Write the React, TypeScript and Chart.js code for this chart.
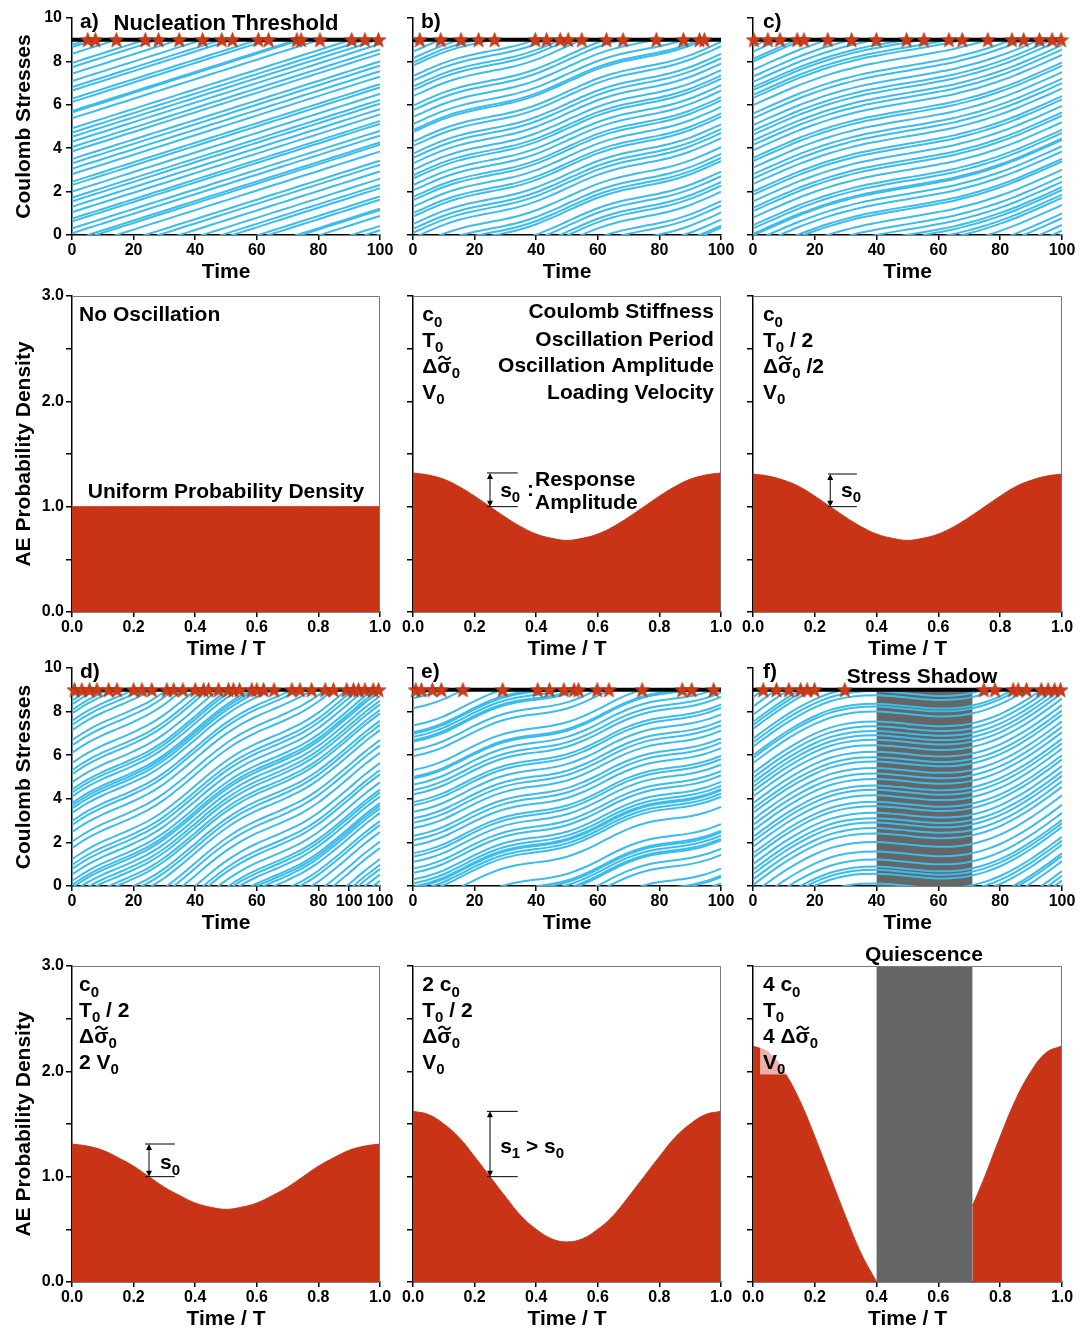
import { useEffect, useRef } from "react"
import { Chart, registerables } from "chart.js"

Chart.register(...registerables)

const FONT = '"Liberation Sans", Arial, Helvetica, sans-serif'
const CYAN = "#3bbcec"
const RED = "#c93417"
const STAR = "#d03b17"
const SHADE = "#666666"
const THRESHOLD = 9

// sample times of the loading curves
const BASE_T = [0, 5, 10, 15, 20, 25, 30, 35, 40, 45, 50, 55, 60, 65, 70, 75, 80, 85, 90, 95, 100]

// loading curve of each stress panel (stress added since t = 0)
const BASE_A = [0, 0.23, 0.45, 0.68, 0.9, 1.13, 1.35, 1.58, 1.8, 2.03, 2.25, 2.48, 2.7, 2.93, 3.15, 3.38, 3.6, 3.83, 4.05, 4.28, 4.5]
const BASE_B = [0, 0.32, 0.61, 0.84, 1.01, 1.15, 1.29, 1.46, 1.69, 1.98, 2.3, 2.62, 2.91, 3.14, 3.31, 3.45, 3.59, 3.76, 3.99, 4.28, 4.6]
const BASE_C = [0, 0.32, 0.63, 0.93, 1.19, 1.43, 1.63, 1.81, 1.95, 2.08, 2.2, 2.32, 2.45, 2.59, 2.77, 2.97, 3.21, 3.47, 3.77, 4.08, 4.4]
const BASE_D = [0, 0.45, 0.81, 1.11, 1.42, 1.77, 2.22, 2.77, 3.36, 3.96, 4.5, 4.95, 5.31, 5.61, 5.92, 6.27, 6.72, 7.27, 7.86, 8.46, 9.0]
const BASE_E = [0, 0.17, 0.42, 0.76, 1.12, 1.44, 1.68, 1.83, 1.93, 2.03, 2.19, 2.45, 2.78, 3.15, 3.47, 3.71, 3.86, 3.95, 4.05, 4.22, 4.47]
const BASE_F = [0, 0.52, 1.01, 1.44, 1.8, 2.08, 2.25, 2.34, 2.36, 2.32, 2.25, 2.18, 2.14, 2.16, 2.25, 2.43, 2.7, 3.06, 3.49, 3.98, 4.5]

// event times (stars on the nucleation threshold)
const STARS_A = [5.1, 7.6, 14.4, 23.8, 28.1, 34.8, 42.4, 48.6, 52.1, 60.5, 63.8, 73.0, 74.4, 80.5, 90.8, 95.1, 99.5]
const STARS_B = [2.2, 9.0, 15.6, 21.3, 26.5, 39.7, 43.4, 47.8, 50.4, 54.8, 62.8, 68.2, 79.0, 87.8, 93.0, 94.6]
const STARS_C = [0.3, 4.8, 8.7, 14.3, 16.5, 24.2, 31.9, 39.9, 49.7, 55.3, 63.4, 67.7, 76.0, 83.8, 87.6, 92.7, 96.8, 99.7]
const STARS_D = [0.8, 3.2, 5.7, 8.1, 11.9, 14.6, 20.0, 22.7, 25.9, 30.8, 33.0, 36.0, 40.0, 42.7, 44.3, 47.6, 50.8, 52.4, 54.4, 58.4, 60.0, 62.2, 65.6, 71.4, 74.0, 77.8, 82.2, 84.9, 89.2, 91.4, 93.0, 95.1, 97.8, 99.5]
const STARS_E = [0.9, 2.7, 6.3, 9.2, 16.2, 29.1, 40.5, 44.3, 49.0, 52.3, 53.7, 59.8, 63.6, 74.4, 87.4, 90.5, 97.6]
const STARS_F = [3.3, 7.6, 11.6, 15.4, 17.5, 19.9, 29.7, 74.7, 78.3, 84.2, 85.8, 88.5, 93.3, 95.5, 97.6, 99.5]

// starting stress of the faults that do not fail inside the window
const QUIET_A = [0.08, 0.3, 0.62, 0.75, 1.05, 1.3, 1.55, 1.72, 2.0, 2.3, 2.45, 2.8, 3.05, 3.3, 3.5, 3.85, 4.05, 4.3]
const QUIET_B = [0.1, 0.28, 0.5, 0.85, 1.0, 1.3, 1.6, 1.75, 2.05, 2.3, 2.6, 2.75, 3.0, 3.3, 3.55, 3.75, 4.1, 4.3]
const QUIET_C = [0.05, 0.3, 0.45, 0.8, 1.1, 1.25, 1.55, 1.85, 2.0, 2.35, 2.6, 2.8, 3.1, 3.4, 3.55, 3.9, 4.15, 4.35]
const QUIET_D: number[] = []
const QUIET_E = [0.12, 0.3, 0.6, 0.8, 1.1, 1.35, 1.5, 1.85, 2.1, 2.3, 2.65, 2.9, 3.1, 3.4, 3.7, 3.85, 4.2, 4.4]
const QUIET_F = [0.05, 0.3, 0.55, 0.75, 1.0, 1.3, 1.5, 1.8, 2.05, 2.25, 2.55, 2.8, 3.05, 3.35, 3.55, 3.8, 4.1, 4.35]

// probability density over one period
const PHASE_X = [0, 0.05, 0.1, 0.15, 0.2, 0.25, 0.3, 0.35, 0.4, 0.45, 0.5, 0.55, 0.6, 0.65, 0.7, 0.75, 0.8, 0.85, 0.9, 0.95, 1]
const DENS_A = [1, 1, 1, 1, 1, 1, 1, 1, 1, 1, 1, 1, 1, 1, 1, 1, 1, 1, 1, 1, 1]
const DENS_B = [1.32, 1.3, 1.26, 1.19, 1.1, 1.0, 0.9, 0.81, 0.74, 0.7, 0.68, 0.7, 0.74, 0.81, 0.9, 1.0, 1.1, 1.19, 1.26, 1.3, 1.32]
const DENS_C = [1.31, 1.29, 1.25, 1.19, 1.1, 1.0, 0.9, 0.81, 0.74, 0.7, 0.68, 0.7, 0.74, 0.81, 0.9, 1.0, 1.1, 1.19, 1.25, 1.29, 1.31]
const DENS_D = [1.31, 1.29, 1.25, 1.18, 1.1, 1.0, 0.9, 0.82, 0.75, 0.71, 0.69, 0.71, 0.75, 0.82, 0.9, 1.0, 1.1, 1.18, 1.25, 1.29, 1.31]
const DENS_E = [1.62, 1.59, 1.5, 1.37, 1.19, 1.0, 0.81, 0.63, 0.5, 0.41, 0.38, 0.41, 0.5, 0.63, 0.81, 1.0, 1.19, 1.37, 1.5, 1.59, 1.62]
const DENS_F_X1 = [0, 0.05, 0.1, 0.15, 0.2, 0.25, 0.3, 0.35, 0.4]
const DENS_F_1 = [2.24, 2.18, 2.0, 1.73, 1.38, 1.0, 0.62, 0.27, 0.0]
const DENS_F_X2 = [0.71, 0.75, 0.8, 0.85, 0.9, 0.95, 1]
const DENS_F_2 = [0.72, 1.0, 1.38, 1.73, 2.0, 2.18, 2.24]

// axis ticks
const TIME_TICKS = [0, 20, 40, 60, 80, 100]
const TIME_LABELS = ["0", "20", "40", "60", "80", "100"]
const TIME_TICKS_D = [0, 20, 40, 60, 80, 90, 100]
const TIME_LABELS_D = ["0", "20", "40", "60", "80", "100", "100"]
const STRESS_TICKS = [0, 2, 4, 6, 8, 10]
const STRESS_LABELS = ["0", "2", "4", "6", "8", "10"]
const PHASE_TICKS = [0, 0.2, 0.4, 0.6, 0.8, 1]
const PHASE_LABELS = ["0.0", "0.2", "0.4", "0.6", "0.8", "1.0"]
const DENS_TICKS = [0, 0.5, 1, 1.5, 2, 2.5, 3]
const DENS_LABELS = ["0.0", "", "1.0", "", "2.0", "", "3.0"]

// page layout of the plot areas
const COL_LEFT = [72, 413, 753]
const COL_W = [308, 308, 309]
const ROW_TOP = [18, 296, 668, 966]
const ROW_H = [217, 316, 218, 316]
const ROW_PAD = [14, 14, 14, 30]

const PARAM_Y = [2.83, 2.59, 2.34, 2.09]

// "§" stands for sigma with a tilde, "_" makes the next character a subscript
const params = (x: number, labels: string[]) => labels.map((s, i) => ({ s, x, y: PARAM_Y[i] }))

const PANELS: any[] = [
  { row: 0, col: 0, kind: "stress", base: BASE_A, stars: STARS_A, quiet: QUIET_A,
    texts: [{ s: "a)", x: 2.6, y: 9.88 }, { s: "Nucleation Threshold", x: 50, y: 9.8, align: "center", size: 22 }] },
  { row: 0, col: 1, kind: "stress", base: BASE_B, stars: STARS_B, quiet: QUIET_B, texts: [{ s: "b)", x: 2.6, y: 9.88 }] },
  { row: 0, col: 2, kind: "stress", base: BASE_C, stars: STARS_C, quiet: QUIET_C, texts: [{ s: "c)", x: 3.2, y: 9.88 }] },
  { row: 1, col: 0, kind: "dens", series: [[PHASE_X, DENS_A]],
    texts: [{ s: "No Oscillation", x: 0.023, y: 2.83 }, { s: "Uniform Probability Density", x: 0.5, y: 1.15, align: "center" }] },
  { row: 1, col: 1, kind: "dens", series: [[PHASE_X, DENS_B]],
    texts: [
      ...params(0.03, ["c_0", "T_0", "\u0394§_0", "V_0"]),
      { s: "Coulomb Stiffness", x: 0.977, y: 2.86, align: "right" },
      { s: "Oscillation Period", x: 0.977, y: 2.6, align: "right" },
      { s: "Oscillation Amplitude", x: 0.977, y: 2.35, align: "right" },
      { s: "Loading Velocity", x: 0.977, y: 2.09, align: "right" },
      { s: "s_0", x: 0.283, y: 1.16 },
      { s: ":", x: 0.37, y: 1.17 },
      { s: "Response", x: 0.396, y: 1.27 },
      { s: "Amplitude", x: 0.396, y: 1.05 },
    ],
    arrows: [{ x: 0.25, y0: 1.0, y1: 1.32, x0: 0.24, x1: 0.34 }] },
  { row: 1, col: 2, kind: "dens", series: [[PHASE_X, DENS_C]],
    texts: [...params(0.032, ["c_0", "T_0 / 2", "\u0394§_0 /2", "V_0"]), { s: "s_0", x: 0.285, y: 1.16 }],
    arrows: [{ x: 0.25, y0: 1.0, y1: 1.31, x0: 0.243, x1: 0.336 }] },
  { row: 2, col: 0, kind: "stress", base: BASE_D, stars: STARS_D, quiet: QUIET_D, xticks: TIME_TICKS_D, xlabels: TIME_LABELS_D,
    texts: [{ s: "d)", x: 2.6, y: 9.88 }] },
  { row: 2, col: 1, kind: "stress", base: BASE_E, stars: STARS_E, quiet: QUIET_E, texts: [{ s: "e)", x: 2.6, y: 9.88 }] },
  { row: 2, col: 2, kind: "stress", base: BASE_F, stars: STARS_F, quiet: QUIET_F, shade: [40, 71, 9],
    texts: [{ s: "f)", x: 3.2, y: 9.88 }, { s: "Stress Shadow", x: 54.7, y: 9.66, align: "center" }] },
  { row: 3, col: 0, kind: "dens", series: [[PHASE_X, DENS_D]],
    texts: [...params(0.023, ["c_0", "T_0 / 2", "\u0394§_0", "2 V_0"]), { s: "s_0", x: 0.286, y: 1.14 }],
    arrows: [{ x: 0.25, y0: 1.0, y1: 1.31, x0: 0.237, x1: 0.334 }] },
  { row: 3, col: 1, kind: "dens", series: [[PHASE_X, DENS_E]],
    texts: [...params(0.03, ["2 c_0", "T_0 / 2", "\u0394§_0", "V_0"]), { s: "s_1 > s_0", x: 0.283, y: 1.3 }],
    arrows: [{ x: 0.25, y0: 1.0, y1: 1.62, x0: 0.24, x1: 0.34 }] },
  { row: 3, col: 2, kind: "dens", series: [[DENS_F_X1, DENS_F_1], [DENS_F_X2, DENS_F_2]], shade: [0.4, 0.71, 3],
    veil: [0.023, 0.11, 1.97, 2.23],
    texts: [...params(0.032, ["4 c_0", "T_0", "4 \u0394§_0", "V_0"]), { s: "Quiescence", x: 0.553, y: 3.12, align: "center" }] },
]

function valueAt(xs: number[], ys: number[], t: number) {
  for (let i = 1; i < xs.length; i++) {
    if (t <= xs[i]) {
      const f = (t - xs[i - 1]) / (xs[i] - xs[i - 1])
      return ys[i - 1] + f * (ys[i] - ys[i - 1])
    }
  }
  return ys[ys.length - 1]
}

// every fault follows the loading curve shifted by its own stress, and drops to zero when it fails
function loadingLines(base: number[], stars: number[], quiet: number[]) {
  const offsets = quiet.concat(stars.map((t) => THRESHOLD - valueAt(BASE_T, base, t)))
  const out: { x: number; y: number }[][] = []
  offsets.forEach((o) => {
    const ys = base.map((b) => b + o)
    const k = ys.findIndex((y) => y >= THRESHOLD)
    const upper = k < 0 ? ys : ys.slice(0, k + 1)
    out.push(upper.map((y, i) => ({ x: BASE_T[i], y })))
    if (k >= 0) {
      const start = Math.max(k - 1, 0)
      out.push(ys.slice(start).map((y, i) => ({ x: BASE_T[start + i], y: y - THRESHOLD })))
    }
  })
  return out
}

function starImage() {
  const c = document.createElement("canvas")
  c.width = 17
  c.height = 17
  const g = c.getContext("2d")!
  g.beginPath()
  for (let i = 0; i < 10; i++) {
    const a = -Math.PI / 2 + (i * Math.PI) / 5
    const r = i % 2 === 0 ? 8 : 3.4
    g.lineTo(8.5 + r * Math.cos(a), 9.2 + r * Math.sin(a))
  }
  g.closePath()
  g.fillStyle = STAR
  g.fill()
  g.strokeStyle = "#9c2a0f"
  g.lineWidth = 0.6
  g.stroke()
  return c
}

function drawRich(ctx: CanvasRenderingContext2D, str: string, x: number, y: number, align: string, size: number) {
  const parts: { t: string; sub: boolean; tilde: boolean }[] = []
  for (let i = 0; i < str.length; i++) {
    const ch = str[i]
    if (ch === "_") {
      parts.push({ t: str[i + 1], sub: true, tilde: false })
      i++
    } else if (ch === "§") {
      parts.push({ t: "\u03c3", sub: false, tilde: true })
    } else {
      const last = parts[parts.length - 1]
      if (last && !last.sub && !last.tilde) last.t += ch
      else parts.push({ t: ch, sub: false, tilde: false })
    }
  }
  const main = `bold ${size}px ${FONT}`
  const small = `bold ${Math.round(size * 0.72)}px ${FONT}`
  const widths = parts.map((p) => {
    ctx.font = p.sub ? small : main
    return ctx.measureText(p.t).width
  })
  const total = widths.reduce((a, b) => a + b, 0)
  let cx = align === "right" ? x - total : align === "center" ? x - total / 2 : x
  const baseY = y + size * 0.36
  ctx.fillStyle = "#000"
  ctx.textAlign = "left"
  ctx.textBaseline = "alphabetic"
  parts.forEach((p, i) => {
    ctx.font = p.sub ? small : main
    ctx.fillText(p.t, cx, p.sub ? baseY + size * 0.24 : baseY)
    if (p.tilde) {
      // small tilde over the sigma
      const mx = cx + widths[i] / 2
      const ty = baseY - size * 0.72
      const hw = widths[i] * 0.42
      ctx.save()
      ctx.strokeStyle = "#000"
      ctx.lineWidth = size * 0.09
      ctx.beginPath()
      ctx.moveTo(mx - hw, ty + 1)
      ctx.bezierCurveTo(mx - hw * 0.5, ty - 3, mx - hw * 0.1, ty - 1, mx, ty)
      ctx.bezierCurveTo(mx + hw * 0.1, ty + 1, mx + hw * 0.5, ty + 3, mx + hw, ty - 1)
      ctx.stroke()
      ctx.restore()
    }
    cx += widths[i]
  })
}

function decorPlugin(spec: any) {
  return {
    id: "decor",
    beforeDatasetsDraw(chart: any) {
      if (!spec.shade) return
      const { ctx, scales } = chart
      const [x0, x1, yTop] = spec.shade
      const l = scales.x.getPixelForValue(x0)
      const r = scales.x.getPixelForValue(x1)
      const t = scales.y.getPixelForValue(yTop)
      const b = scales.y.getPixelForValue(0)
      ctx.save()
      ctx.fillStyle = SHADE
      ctx.fillRect(l, t, r - l, b - t)
      ctx.restore()
    },
    beforeDatasetDraw(chart: any, args: any) {
      const ds = chart.data.datasets[args.index]
      if (ds.clipTop == null) return
      const { ctx, chartArea, scales } = chart
      const t = scales.y.getPixelForValue(ds.clipTop)
      ctx.save()
      ctx.beginPath()
      ctx.rect(chartArea.left, t, chartArea.right - chartArea.left, chartArea.bottom - t)
      ctx.clip()
    },
    afterDatasetDraw(chart: any, args: any) {
      const ds = chart.data.datasets[args.index]
      if (ds.clipTop == null) return
      chart.ctx.restore()
    },
    afterDatasetsDraw(chart: any) {
      if (!spec.veil) return
      const { ctx, scales } = chart
      const [x0, x1, y0, y1] = spec.veil
      const l = scales.x.getPixelForValue(x0)
      const r = scales.x.getPixelForValue(x1)
      const t = scales.y.getPixelForValue(y1)
      const b = scales.y.getPixelForValue(y0)
      ctx.save()
      ctx.fillStyle = "rgba(255,255,255,0.62)"
      ctx.fillRect(l, t, r - l, b - t)
      ctx.restore()
    },
    afterDraw(chart: any) {
      const { ctx, chartArea, scales } = chart
      ctx.save()
      if (spec.kind === "dens") {
        ctx.strokeStyle = "#777"
        ctx.lineWidth = 1
        ctx.beginPath()
        ctx.moveTo(chartArea.left, chartArea.top + 0.5)
        ctx.lineTo(chartArea.right - 0.5, chartArea.top + 0.5)
        ctx.lineTo(chartArea.right - 0.5, chartArea.bottom)
        ctx.stroke()
      }
      ;(spec.arrows || []).forEach((a: any) => {
        const x = scales.x.getPixelForValue(a.x)
        const yb = scales.y.getPixelForValue(a.y0)
        const yt = scales.y.getPixelForValue(a.y1)
        const l = scales.x.getPixelForValue(a.x0)
        const r = scales.x.getPixelForValue(a.x1)
        ctx.strokeStyle = "#000"
        ctx.fillStyle = "#000"
        ctx.lineWidth = 1
        ctx.beginPath()
        ctx.moveTo(l, yb)
        ctx.lineTo(r, yb)
        ctx.moveTo(l, yt)
        ctx.lineTo(r, yt)
        ctx.moveTo(x, yt + 4)
        ctx.lineTo(x, yb - 4)
        ctx.stroke()
        ctx.beginPath()
        ctx.moveTo(x, yt)
        ctx.lineTo(x - 3, yt + 6)
        ctx.lineTo(x + 3, yt + 6)
        ctx.closePath()
        ctx.moveTo(x, yb)
        ctx.lineTo(x - 3, yb - 6)
        ctx.lineTo(x + 3, yb - 6)
        ctx.closePath()
        ctx.fill()
      })
      ;(spec.texts || []).forEach((t: any) => {
        drawRich(ctx, t.s, scales.x.getPixelForValue(t.x), scales.y.getPixelForValue(t.y), t.align || "left", t.size || 21)
      })
      ctx.restore()
    },
  }
}

function axis(min: number, max: number, ticks: number[], labels: string[] | null, title: string | null, fit: any, titlePad: any, tickLen: number, pad: number) {
  return {
    type: "linear",
    min,
    max,
    afterBuildTicks: (s: any) => {
      s.ticks = ticks.map((v) => ({ value: v }))
    },
    afterFit: (s: any) => {
      if (fit.width != null) s.width = fit.width
      if (fit.height != null) s.height = fit.height
    },
    ticks: {
      autoSkip: false,
      maxRotation: 0,
      padding: pad,
      color: "#000",
      font: { family: FONT, size: 16, weight: "bold" },
      callback: (_v: any, i: number) => (labels ? labels[i] : ""),
    },
    grid: { drawOnChartArea: false, drawTicks: true, tickLength: tickLen, color: "#000", lineWidth: 1.5 },
    border: { display: true, color: "#000", width: 1.5 },
    title: {
      display: !!title,
      text: title || "",
      color: "#000",
      font: { family: FONT, size: 21, weight: "bold" },
      padding: titlePad,
    },
  }
}

function makeConfig(spec: any, yw: number, padTop: number) {
  const first = spec.col === 0
  let datasets: any[] = []
  let scales: any
  if (spec.kind === "stress") {
    const star = starImage()
    datasets.push({
      data: spec.stars.map((t: number) => ({ x: t, y: THRESHOLD })),
      showLine: false,
      pointStyle: star,
      pointRadius: 7,
      order: 0,
      clip: false,
    })
    datasets.push({
      data: [{ x: 0, y: THRESHOLD }, { x: 100, y: THRESHOLD }],
      borderColor: "#000",
      borderWidth: 4,
      pointRadius: 0,
      order: 1,
      clip: false,
    })
    loadingLines(spec.base, spec.stars, spec.quiet).forEach((pts) => {
      datasets.push({
        data: pts,
        borderColor: CYAN,
        borderWidth: 2,
        pointRadius: 0,
        cubicInterpolationMode: "monotone",
        order: 2,
        clipTop: THRESHOLD,
      })
    })
    scales = {
      x: axis(0, 100, spec.xticks || TIME_TICKS, spec.xlabels || TIME_LABELS, "Time", { height: 50 }, { top: 0, bottom: 0 }, 5, 1),
      y: axis(0, 10, STRESS_TICKS, first ? STRESS_LABELS : null, first ? "Coulomb Stresses" : null, { width: yw }, { top: 12, bottom: 0 }, 6, 4),
    }
  } else {
    datasets = spec.series.map(([xs, ys]: number[][]) => ({
      data: xs.map((x, i) => ({ x, y: ys[i] })),
      fill: "origin",
      backgroundColor: RED,
      borderColor: RED,
      borderWidth: 1,
      pointRadius: 0,
      tension: 0.4,
    }))
    scales = {
      x: axis(0, 1, PHASE_TICKS, PHASE_LABELS, "Time / T", { height: 50 }, { top: 0, bottom: 0 }, 5, 1),
      y: axis(0, 3, DENS_TICKS, first ? DENS_LABELS : null, first ? "AE Probability Density" : null, { width: yw }, { top: 12, bottom: 0 }, 6, 2),
    }
  }
  return {
    type: "line",
    data: { datasets },
    options: {
      responsive: true,
      maintainAspectRatio: false,
      animation: false,
      events: [],
      layout: { padding: { top: padTop, right: 22, left: 0, bottom: 0 } },
      plugins: { legend: { display: false }, tooltip: { enabled: false } },
      scales,
    },
    plugins: [decorPlugin(spec)],
  } as any
}

function Panel({ spec }: { spec: any }) {
  const ref = useRef<HTMLCanvasElement>(null)
  const yw = spec.col === 0 ? 72 : 40
  const pad = ROW_PAD[spec.row]
  const left = COL_LEFT[spec.col] - yw
  const top = ROW_TOP[spec.row] - pad
  const width = yw + COL_W[spec.col] + 22
  const height = pad + ROW_H[spec.row] + 50

  useEffect(() => {
    if (!ref.current) return
    const chart = new Chart(ref.current, makeConfig(spec, yw, pad))
    return () => chart.destroy()
  }, [])

  return (
    <div style={{ position: "absolute", left, top, width, height }}>
      <canvas ref={ref} />
    </div>
  )
}

export default function App() {
  return (
    <div>
      {PANELS.map((p, i) => (
        <Panel key={i} spec={p} />
      ))}
    </div>
  )
}
